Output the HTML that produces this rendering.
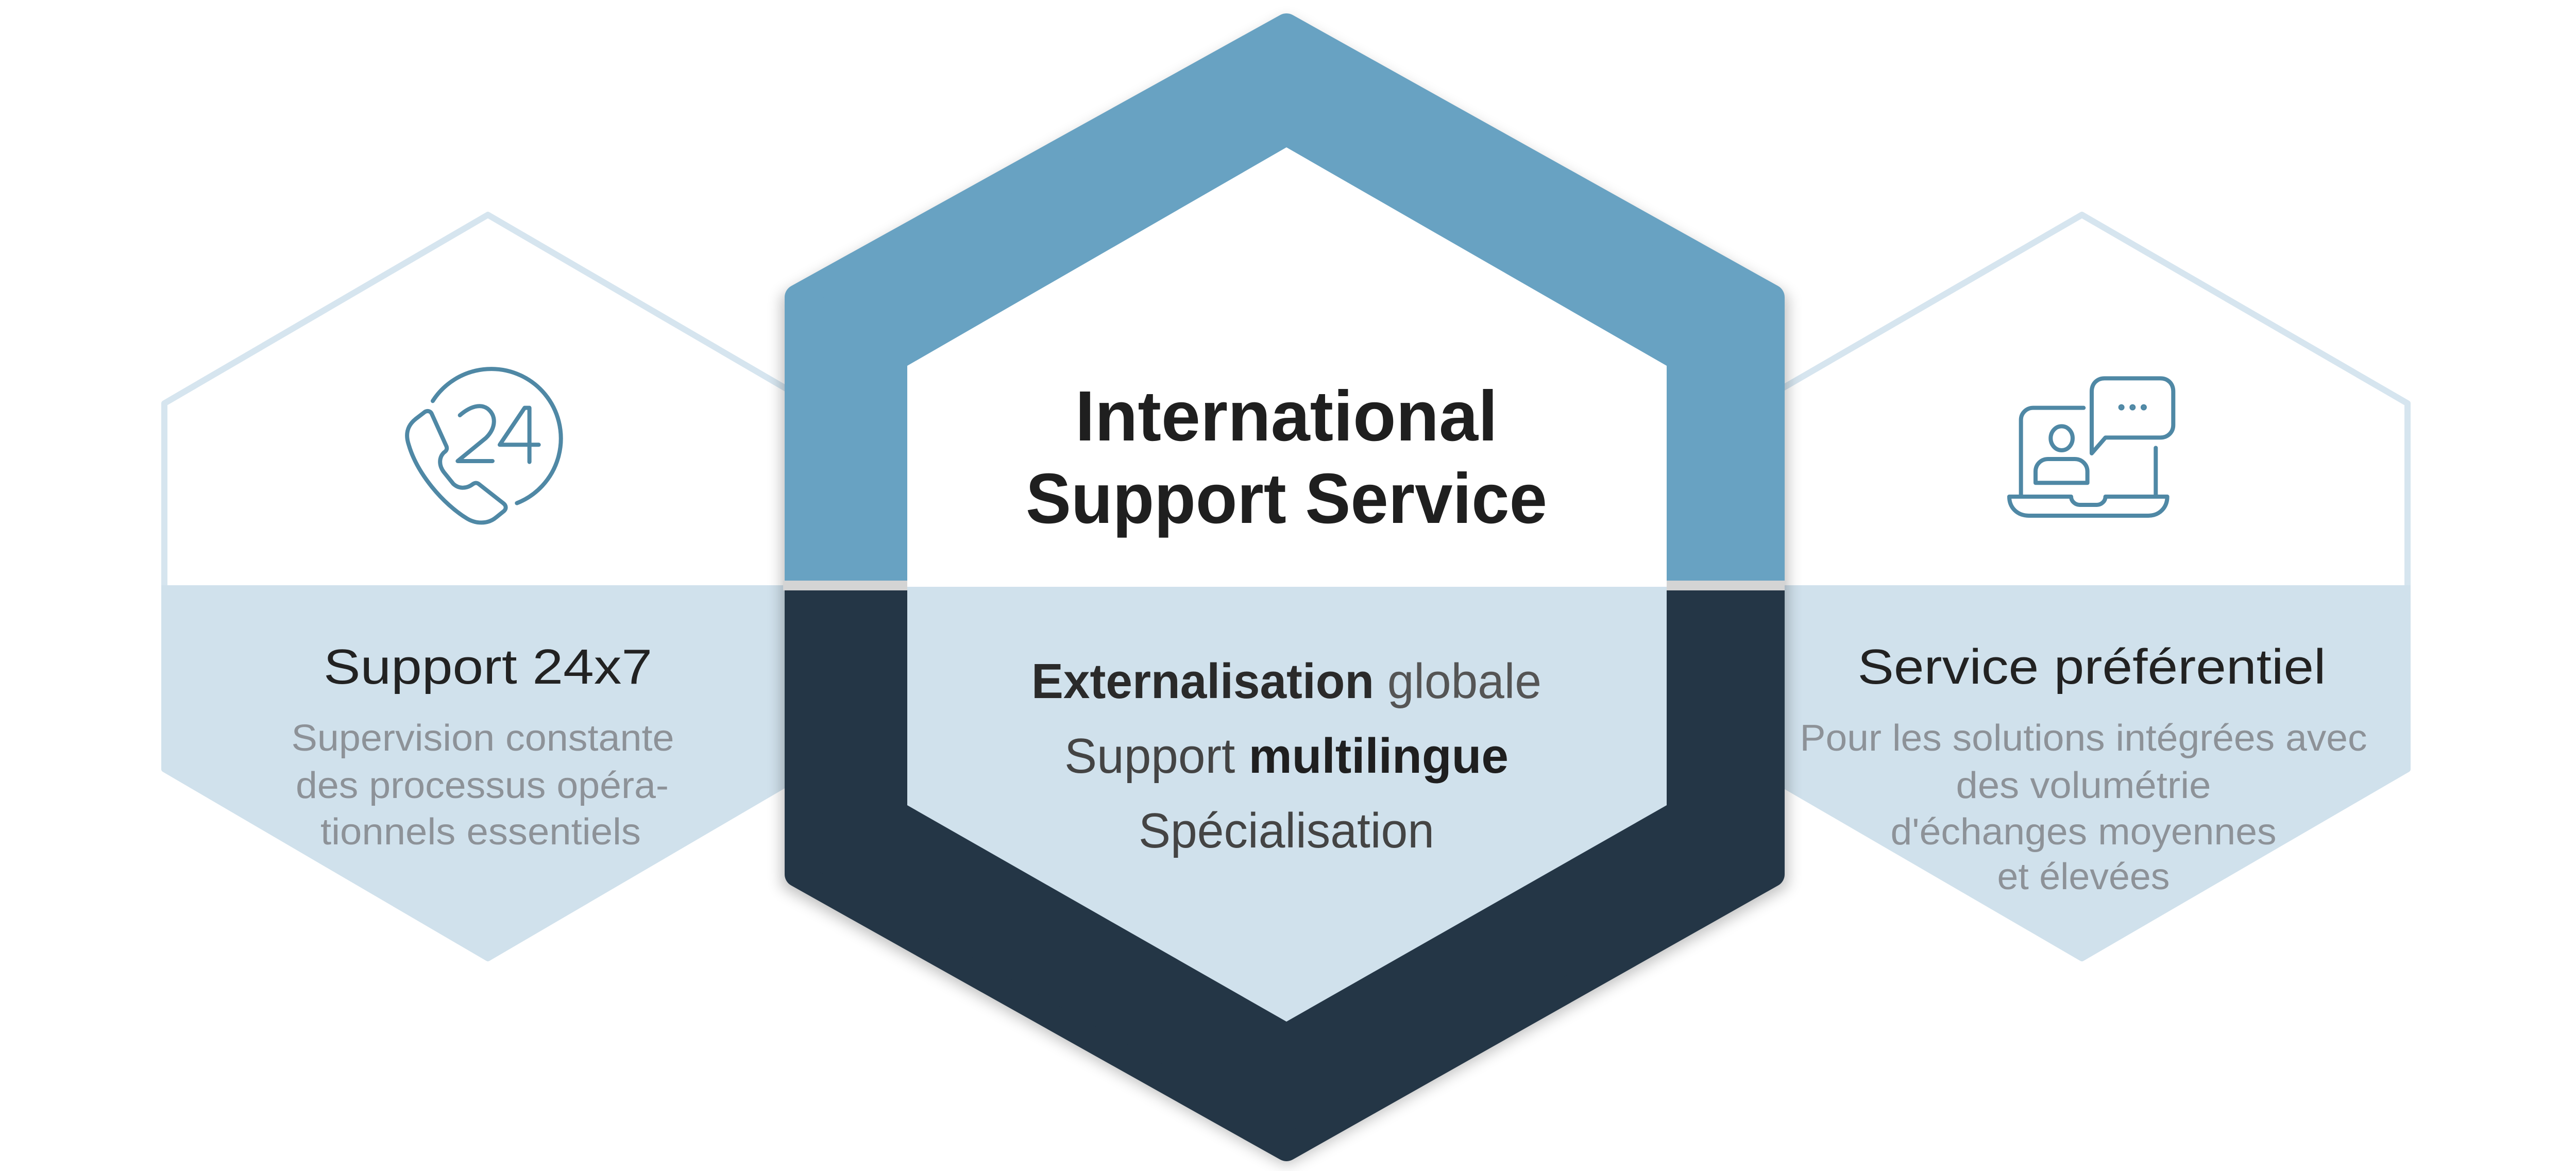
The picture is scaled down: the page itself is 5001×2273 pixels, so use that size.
<!DOCTYPE html>
<html><head><meta charset="utf-8"><style>
html,body{margin:0;padding:0;background:#fff;}
svg{display:block;}
text{font-family:"Liberation Sans",sans-serif;}
</style></head><body>
<svg width="5001" height="2273" viewBox="0 0 5001 2273" xmlns="http://www.w3.org/2000/svg">
<defs>
<clipPath id="top"><rect x="0" y="0" width="5001" height="1127"/></clipPath>
<clipPath id="bot"><rect x="0" y="1146" width="5001" height="1200"/></clipPath>
<clipPath id="stop"><rect x="0" y="0" width="5001" height="1136"/></clipPath>
<clipPath id="sbot"><rect x="0" y="1136" width="5001" height="1200"/></clipPath>
<filter id="sh" x="-10%" y="-10%" width="120%" height="120%"><feGaussianBlur stdDeviation="14"/></filter>
</defs>

<!-- side hexagons -->
<g stroke-linejoin="round">
<polygon points="947,417 1575,783 1575,1493 947,1860 319,1493 319,783" fill="#fff" stroke="#d6e5ef" stroke-width="12" clip-path="url(#stop)"/>
<polygon points="947,417 1575,783 1575,1493 947,1860 319,1493 319,783" fill="#d0e1ec" stroke="#d0e1ec" stroke-width="12" clip-path="url(#sbot)"/>
<polygon points="4041,417 4673,783 4673,1493 4041,1860 3409,1493 3409,783" fill="#fff" stroke="#d6e5ef" stroke-width="12" clip-path="url(#stop)"/>
<polygon points="4041,417 4673,783 4673,1493 4041,1860 3409,1493 3409,783" fill="#d0e1ec" stroke="#d0e1ec" stroke-width="12" clip-path="url(#sbot)"/>
</g>

<!-- central hex shadow -->
<polygon points="2497,36 3470,575 3470,1720 2497,2262 1517,1720 1517,575" fill="#000" opacity="0.25" filter="url(#sh)"/>
<rect x="1520" y="1127" width="1944" height="19" fill="#d4d4d4"/>
<g stroke-linejoin="round" stroke-width="50">
<polygon points="2497,51 3439,577 3439,1697 2497,2229 1548,1697 1548,577" fill="#68a2c2" stroke="#68a2c2" clip-path="url(#top)"/>
<polygon points="2497,51 3439,577 3439,1697 2497,2229 1548,1697 1548,577" fill="#243646" stroke="#243646" clip-path="url(#bot)"/>
</g>
<polygon points="2497,286 3235,710 3235,1139 1761,1139 1761,710" fill="#fff"/>
<polygon points="1761,1139 3235,1139 3235,1563 2497,1983 1761,1563" fill="#d0e1ec"/>

<!-- central text -->
<text x="2497" y="855" text-anchor="middle" font-size="138" font-weight="bold" fill="#1f1f1f" textLength="820" lengthAdjust="spacingAndGlyphs">International</text>
<text x="2497" y="1015" text-anchor="middle" font-size="138" font-weight="bold" fill="#1f1f1f" textLength="1012" lengthAdjust="spacingAndGlyphs">Support Service</text>
<text x="2497" y="1355" text-anchor="middle" font-size="96" fill="#2a2a2a" textLength="990" lengthAdjust="spacingAndGlyphs"><tspan font-weight="bold">Externalisation</tspan> <tspan fill="#555" font-weight="normal">globale</tspan></text>
<text x="2497" y="1500" text-anchor="middle" font-size="96" fill="#444" textLength="862" lengthAdjust="spacingAndGlyphs">Support <tspan font-weight="bold" fill="#1f1f1f">multilingue</tspan></text>
<text x="2497" y="1645" text-anchor="middle" font-size="96" fill="#444" textLength="574" lengthAdjust="spacingAndGlyphs">Spécialisation</text>

<!-- left text -->
<text x="947" y="1327" text-anchor="middle" font-size="96" fill="#222" textLength="638" lengthAdjust="spacingAndGlyphs">Support 24x7</text>
<g font-size="72" fill="#8d9298" text-anchor="middle">
<text x="937" y="1457" textLength="743" lengthAdjust="spacingAndGlyphs">Supervision constante</text>
<text x="936" y="1549" textLength="724" lengthAdjust="spacingAndGlyphs">des processus opéra-</text>
<text x="933" y="1639" textLength="622" lengthAdjust="spacingAndGlyphs">tionnels essentiels</text>
</g>

<!-- right text -->
<text x="4060" y="1327" text-anchor="middle" font-size="96" fill="#222" textLength="909" lengthAdjust="spacingAndGlyphs">Service préférentiel</text>
<g font-size="72" fill="#8d9298" text-anchor="middle">
<text x="4044" y="1457" textLength="1101" lengthAdjust="spacingAndGlyphs">Pour les solutions intégrées avec</text>
<text x="4044" y="1549" textLength="495" lengthAdjust="spacingAndGlyphs">des volumétrie</text>
<text x="4044" y="1639" textLength="749" lengthAdjust="spacingAndGlyphs">d'échanges moyennes</text>
<text x="4044" y="1726" textLength="335" lengthAdjust="spacingAndGlyphs">et élevées</text>
</g>

<!-- phone 24 icon -->
<g transform="translate(700,650) scale(0.3333)" fill="none" stroke="#4f88a5" stroke-width="24" stroke-linecap="round" stroke-linejoin="round">
<path d="M420,385 A405,405 0 1 1 910,980"/>
<path d="M578,468 C640,415 700,400 740,430 C790,470 790,540 730,600 L565,735 L768,735"/>
<path d="M983,740 L983,425 L955,425 L810,640 L1037,640"/>
<path d="M320,490 L375,448 C395,438 410,448 415,462 L500,650 C505,665 500,675 485,685 C455,715 455,760 485,800 L540,868 C575,900 620,895 655,868 C668,860 678,860 690,870 L830,980 C850,995 850,1015 830,1030 L790,1062 C740,1105 670,1100 620,1070 C480,985 330,810 280,640 C260,580 270,530 320,490 Z"/>
</g>

<!-- laptop icon -->
<g transform="translate(3850,680) scale(0.3333)" fill="none" stroke="#4f88a5" stroke-width="24" stroke-linecap="round" stroke-linejoin="round">
<path d="M218,850 L218,405 C218,365 250,335 290,335 L583,335"/>
<path d="M1003,568 L1003,850"/>
<path d="M150,852 L510,852 C510,880 535,900 560,900 L660,900 C685,900 710,880 710,852 L1070,852 C1070,915 1025,963 960,963 L265,963 C195,963 150,915 150,852 Z"/>
<path d="M630,600 L630,240 C630,195 660,163 705,163 L1030,163 C1075,163 1105,195 1105,240 L1105,435 C1105,475 1075,508 1030,508 L710,508 Z"/>
<ellipse cx="455" cy="512" rx="64" ry="70"/>
<path d="M303,772 L303,705 C303,665 335,633 375,633 L532,633 C572,633 605,665 605,705 L605,772 Z"/>
<circle cx="803" cy="332" r="6" fill="#4f88a5"/>
<circle cx="868" cy="332" r="6" fill="#4f88a5"/>
<circle cx="933" cy="332" r="6" fill="#4f88a5"/>
</g>
</svg>
</body></html>
